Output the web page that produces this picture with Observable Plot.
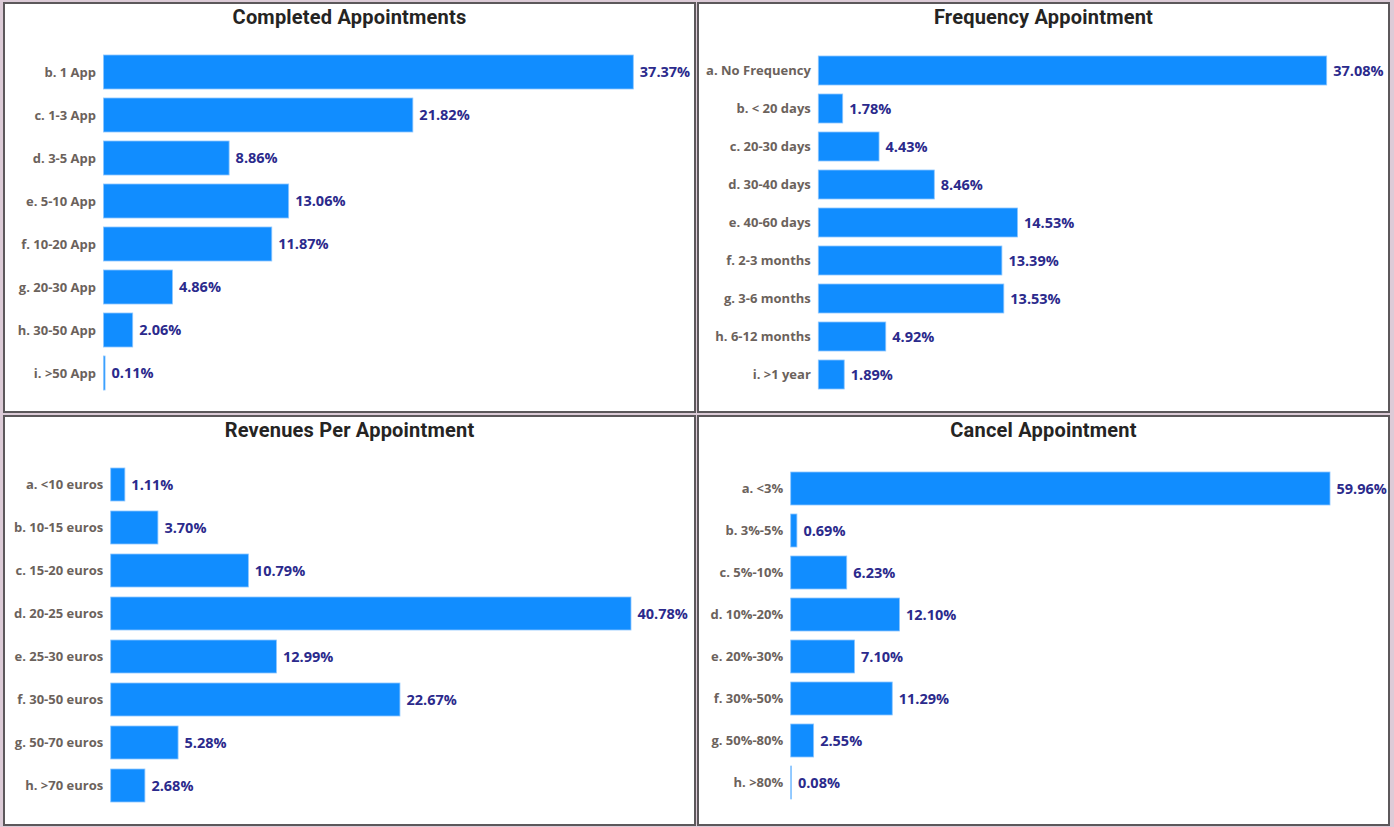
<!DOCTYPE html>
<html>
<head>
<meta charset="utf-8">
<script src="https://cdn.jsdelivr.net/npm/d3@7"></script>
<script src="https://cdn.jsdelivr.net/npm/@observablehq/plot@0.6"></script>
<style>
  html, body { margin: 0; padding: 0; }
  body { width: 1394px; height: 827px; background: #dccbd7; position: relative; overflow: hidden; font-family: "Open Sans", sans-serif; }
  .panel { position: absolute; box-sizing: border-box; border: 2px solid #5c585b; background: #ffffff; }
  .title { position: absolute; left: 0; right: 0; top: 3px; text-align: center; font-family: Roboto, sans-serif; font-weight: 700; font-size: 20px; letter-spacing: 0.2px; line-height: 1; color: #252423; }
  .plot { position: absolute; left: 0; top: 0; }
  .plot g[aria-label="y-axis tick label"] text { font-weight: 700; fill: #6b625c; }
</style>
</head>
<body>
<script>
// ---- Data ----
const completedCats = ["b. 1 App", "c. 1-3 App", "d. 3-5 App", "e. 5-10 App", "f. 10-20 App", "g. 20-30 App", "h. 30-50 App", "i. >50 App"];
const completedVals = [37.37, 21.82, 8.86, 13.06, 11.87, 4.86, 2.06, 0.11];

const frequencyCats = ["a. No Frequency", "b. < 20 days", "c. 20-30 days", "d. 30-40 days", "e. 40-60 days", "f. 2-3 months", "g. 3-6 months", "h. 6-12 months", "i. >1 year"];
const frequencyVals = [37.08, 1.78, 4.43, 8.46, 14.53, 13.39, 13.53, 4.92, 1.89];

const revenueCats = ["a. <10 euros", "b. 10-15 euros", "c. 15-20 euros", "d. 20-25 euros", "e. 25-30 euros", "f. 30-50 euros", "g. 50-70 euros", "h. >70 euros"];
const revenueVals = [1.11, 3.70, 10.79, 40.78, 12.99, 22.67, 5.28, 2.68];

const cancelCats = ["a. <3%", "b. 3%-5%", "c. 5%-10%", "d. 10%-20%", "e. 20%-30%", "f. 30%-50%", "g. 50%-80%", "h. >80%"];
const cancelVals = [59.96, 0.69, 6.23, 12.10, 7.10, 11.29, 2.55, 0.08];

const titles = ["Completed Appointments", "Frequency Appointment", "Revenues Per Appointment", "Cancel Appointment"];

// ---- Layout (page pixels) ----
const panels = [
  {title: titles[0], cats: completedCats, vals: completedVals, box: {left: 3, top: 2, width: 693, height: 411}, barStart: 103.5, barEnd: 633.3, yTop: 55, yBottom: 390, pad: 0.21},
  {title: titles[1], cats: frequencyCats, vals: frequencyVals, box: {left: 697, top: 2, width: 693, height: 411}, barStart: 818.3, barEnd: 1326.7, yTop: 53, yBottom: 391, pad: 0.24},
  {title: titles[2], cats: revenueCats, vals: revenueVals, box: {left: 3, top: 415, width: 693, height: 411}, barStart: 110.7, barEnd: 631, yTop: 468, yBottom: 802.5, pad: 0.225},
  {title: titles[3], cats: cancelCats, vals: cancelVals, box: {left: 697, top: 415, width: 693, height: 411}, barStart: 790.7, barEnd: 1330, yTop: 468, yBottom: 802.3, pad: 0.225}
];

for (const p of panels) {
  const div = document.createElement("div");
  div.className = "panel";
  Object.assign(div.style, {left: p.box.left + "px", top: p.box.top + "px", width: p.box.width + "px", height: p.box.height + "px"});
  const t = document.createElement("div");
  t.className = "title";
  t.textContent = p.title;
  div.appendChild(t);

  const ox = p.box.left + 2, oy = p.box.top + 2;
  const W = p.box.width - 4, H = p.box.height - 4;
  const data = p.cats.map((c, i) => ({c, v: p.vals[i]}));
  const maxV = d3.max(p.vals);

  const chart = Plot.plot({
    width: W,
    height: H,
    marginLeft: p.barStart - ox,
    marginRight: W - (p.barEnd - ox),
    marginTop: p.yTop - oy,
    marginBottom: H - (p.yBottom - oy),
    style: {fontFamily: "'Open Sans', sans-serif", background: "transparent", overflow: "visible"},
    x: {domain: [0, maxV], axis: null},
    y: {domain: p.cats, paddingInner: p.pad, paddingOuter: 0, align: 0.5, label: null},
    marks: [
      Plot.barX(data, {x: "v", y: "c", fill: "#118DFF", stroke: "#8cc6ff", strokeWidth: 0.8}),
      Plot.text(data, {x: "v", y: "c", text: d => d.v.toFixed(2) + "%", textAnchor: "start", dx: 6, fill: "#2b2a8c", fontWeight: 700, fontSize: 14.5}),
      Plot.axisY({tickSize: 0, tickPadding: 8, fontSize: 13, fill: "#6b625c", fontWeight: 700, label: null})
    ]
  });
  chart.classList.add("plot");
  div.appendChild(chart);
  document.body.appendChild(div);
}
</script>
</body>
</html>
